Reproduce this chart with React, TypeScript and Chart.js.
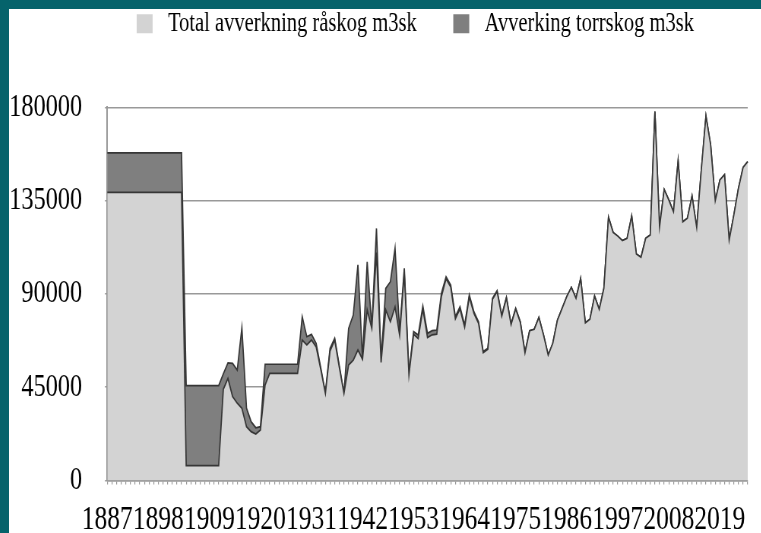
import React, { useEffect, useRef } from 'react';
import { Chart, registerables } from 'chart.js';

Chart.register(...registerables);

// Categories: one per year, 1887 .. 2025
const firstYear = 1887;
const yearCount = 139;
const years: string[] = Array.from({ length: yearCount }, (_, i) => String(firstYear + i));

// Axis tick labels shown on the x axis
const xTickLabels = ['1887', '1898', '1909', '1920', '1931', '1942', '1953', '1964', '1975', '1986', '1997', '2008', '2019'];
const yTicks = [0, 45000, 90000, 135000, 180000];

// Series: Total avverkning råskog m3sk (light, bottom of stack)
const raskog = [
  139000, 139000, 139000, 139000, 139000, 139000, 139000, 139000, 139000, 139000,
  139000, 139000, 139000, 139000, 139000, 139000, 139000, 7200, 7200, 7200,
  7200, 7200, 7200, 7200, 7200, 44000, 49300, 40500, 37300, 34900,
  26000, 23600, 22500, 24400, 46100, 51700, 51700, 51700, 51700, 51700,
  51700, 51700, 67800, 65400, 67800, 64500, 53500, 42000, 62500, 67800,
  54500, 42000, 55700, 58100, 63000, 58500, 82300, 73400, 110000, 57000,
  82300, 76600, 83800, 70000, 100000, 51000, 70500, 68500, 82700, 69000,
  70300, 70600, 88800, 97300, 93300, 78000, 82800, 74000, 88500, 80600,
  75800, 61700, 63300, 87400, 91100, 79300, 88100, 75200, 82800, 76300,
  61600, 72300, 73000, 78700, 70200, 60600, 66200, 77400, 83000, 88700,
  93200, 87900, 97500, 76100, 77800, 89000, 82600, 92700, 127000, 119700,
  117900, 115700, 116800, 127600, 109300, 107700, 116800, 118400, 178000, 122400,
  140400, 135300, 129700, 154200, 124800, 126500, 137200, 122100, 150000, 175800,
  162000, 135000, 145000, 147500, 116000, 128000, 141000, 151000, 153800,
];

// Series: Avverking torrskog m3sk (dark, stacked on top)
const torrskog = [
  19000, 19000, 19000, 19000, 19000, 19000, 19000, 19000, 19000, 19000,
  19000, 19000, 19000, 19000, 19000, 19000, 19000, 38600, 38600, 38600,
  38600, 38600, 38600, 38600, 38600, 7500, 7500, 16000, 16000, 38800,
  8900, 4800, 3000, 1600, 10000, 4400, 4400, 4400, 4400, 4400,
  4400, 4400, 11200, 4000, 2700, 1700, 800, 400, 1300, 800,
  800, 100, 17700, 21700, 41000, 500, 23200, 800, 11600, 1100,
  10400, 19300, 28200, 1800, 2400, 1000, 1300, 1700, 1500, 2000,
  2000, 2000, 1500, 1000, 1000, 1000, 1000, 1000, 1000, 800,
  800, 500, 500, 500, 500, 500, 300, 300, 300, 300,
  300, 0, 0, 0, 0, 0, 0, 0, 0, 0,
  0, 0, 0, 0, 0, 0, 0, 0, 0, 0,
  0, 0, 0, 0, 0, 0, 0, 0, 0, 0,
  0, 0, 0, 0, 0, 0, 0, 0, 0, 0,
  0, 0, 0, 0, 0, 0, 0, 0, 0,
];

const SX = 0.76; // horizontal squeeze of the original picture
const CANVAS_W = 990;
const CANVAS_H = 524;
const FONT = '"Liberation Serif", "Times New Roman", serif';

const LIGHT = '#d3d3d3';
const DARK = '#7f7f7f';
const LINE = '#363636';
const GRID = '#999999';

const legendPos = {
  id: 'legendPos',
  afterLayout(chart: any) {
    const l = chart.legend;
    if (!l) return;
    const h = l.height;
    l.left = 120;
    l.right = 120 + 2000;
    l.top = -46.7;
    l.bottom = -46.7 + h;
  },
};

export default function App() {
  const ref = useRef<HTMLCanvasElement>(null);

  useEffect(() => {
    if (!ref.current) return;
    const chart = new Chart(ref.current, {
      type: 'line',
      data: {
        labels: years,
        datasets: [
          {
            label: 'Total avverkning råskog m3sk',
            data: raskog,
            backgroundColor: LIGHT,
            borderColor: LINE,
            borderWidth: 1.7,
            fill: 'origin',
            pointRadius: 0,
            tension: 0,
          },
          {
            label: 'Avverking torrskog m3sk',
            data: torrskog,
            backgroundColor: DARK,
            borderColor: LINE,
            borderWidth: 1.7,
            fill: '-1',
            pointRadius: 0,
            tension: 0,
          },
        ],
      },
      options: {
        animation: false,
        responsive: false,
        devicePixelRatio: 1,
        layout: { padding: { top: 13.3, right: 18, bottom: 0, left: 0 } },
        plugins: {
          legend: {
            position: 'top',
            align: 'start',
            labels: {
              font: { family: FONT, size: 27 },
              color: '#000',
              boxWidth: 21,
              boxHeight: 19,
              padding: 48,
              generateLabels: (c: any) => {
                const items = (Chart.defaults.plugins.legend.labels as any).generateLabels(c);
                return items.map((it: any) => ({ ...it, lineWidth: 0, text: ' ' + it.text }));
              },
            },
          },
          tooltip: { enabled: false },
        },
        scales: {
          x: {
            type: 'category',
            offset: false,
            grid: {
              display: true,
              drawOnChartArea: false,
              drawTicks: true,
              tickLength: 4,
              color: GRID,
              lineWidth: 1.2,
            },
            border: { display: true, color: GRID, width: 1.6 },
            ticks: {
              autoSkip: false,
              maxRotation: 0,
              minRotation: 0,
              padding: 16,
              color: '#000',
              font: { family: FONT, size: 33.5 },
              callback: (_v: any, idx: number) => (xTickLabels.includes(years[idx]) ? years[idx] : ''),
            },
            afterFit: (s: any) => {
              s.height = 52.4;
            },
          },
          y: {
            stacked: true,
            min: yTicks[0],
            max: yTicks[yTicks.length - 1],
            grid: {
              color: GRID,
              lineWidth: 1.6,
              drawTicks: true,
              tickLength: 3,
            },
            border: { display: true, color: GRID, width: 2 },
            ticks: {
              stepSize: yTicks[1] - yTicks[0],
              padding: 30,
              color: '#000',
              font: { family: FONT, size: 32 },
              callback: (v: any) => String(v),
            },
            afterFit: (s: any) => {
              s.width = 129.3;
            },
          },
        },
      },
      plugins: [legendPos],
    });
    return () => chart.destroy();
  }, []);

  return (
    <div
      style={{
        position: 'fixed',
        left: 0,
        top: 0,
        width: 761,
        height: 533,
        background: '#05636b',
        overflow: 'hidden',
      }}
    >
      <div
        style={{
          position: 'absolute',
          left: 9,
          top: 9,
          width: 752,
          height: 524,
          background: '#ffffff',
          overflow: 'hidden',
        }}
      >
        <div
          style={{
            width: CANVAS_W,
            height: CANVAS_H,
            transform: `scaleX(${SX})`,
            transformOrigin: '0 0',
          }}
        >
          <canvas ref={ref} width={CANVAS_W} height={CANVAS_H} style={{ display: 'block' }} />
        </div>
      </div>
    </div>
  );
}
